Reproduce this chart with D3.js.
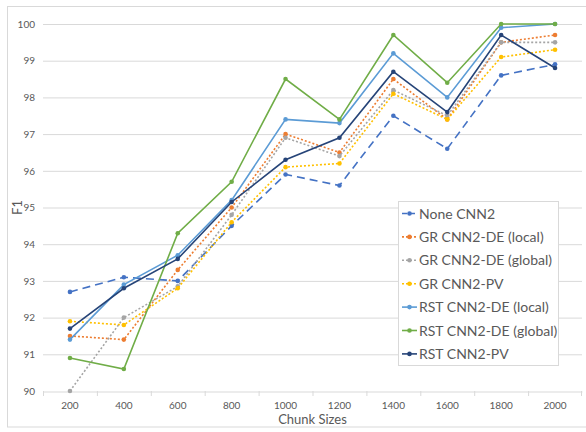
<!DOCTYPE html>
<html><head><meta charset="utf-8">
<script src="https://cdn.jsdelivr.net/npm/d3@7"></script>
<style>body{margin:0;background:#fff;} svg{display:block;}</style>
</head><body>
<svg id="c" width="586" height="432"></svg>
<script>
const categories = [200, 400, 600, 800, 1000, 1200, 1400, 1600, 1800, 2000];
const noneCNN2      = [92.7, 93.1, 93.0, 94.5, 95.9, 95.6, 97.5, 96.6, 98.6, 98.9];
const grDELocal     = [91.5, 91.4, 93.3, 95.0, 97.0, 96.5, 98.5, 97.4, 99.5, 99.7];
const grDEGlobal    = [90.0, 92.0, 92.85, 94.8, 96.9, 96.4, 98.2, 97.5, 99.5, 99.5];
const grPV          = [91.9, 91.8, 92.8, 94.6, 96.1, 96.2, 98.1, 97.4, 99.1, 99.3];
const rstDELocal    = [91.4, 92.9, 93.7, 95.2, 97.4, 97.3, 99.2, 98.0, 99.9, 100.0];
const rstDEGlobal   = [90.9, 90.6, 94.3, 95.7, 98.5, 97.4, 99.7, 98.4, 100.0, 100.0];
const rstPV         = [91.7, 92.8, 93.6, 95.15, 96.3, 96.9, 98.7, 97.6, 99.7, 98.8];
const seriesNames = ["None CNN2","GR CNN2-DE (local)","GR CNN2-DE (global)","GR CNN2-PV","RST CNN2-DE (local)","RST CNN2-DE (global)","RST CNN2-PV"];
const yTicks = [90,91,92,93,94,95,96,97,98,99,100];

const seriesValues = [noneCNN2, grDELocal, grDEGlobal, grPV, rstDELocal, rstDEGlobal, rstPV];
const colors = ["#4472C4","#ED7D31","#A5A5A5","#FFC000","#5B9BD5","#70AD47","#264478"];
const dashes = ["8,5","2,2","2,2","2,2",null,null,null];

const svg = d3.select("#c");
const font = "Lato, 'Open Sans', sans-serif";
svg.append("rect").attr("x",7.5).attr("y",6.5).attr("width",600).attr("height",420.5)
  .attr("fill","#fff").attr("stroke","#d9d9d9");

const L = 43, R = 582, T = 24, B = 391;
const x = d3.scaleBand().domain(categories).range([L, R]);
const y = d3.scaleLinear().domain([90,100]).range([B, T]);

// gridlines
svg.append("g").selectAll("line").data(yTicks.filter(d=>d>90)).join("line")
  .attr("x1",L).attr("x2",R).attr("y1",d=>y(d)+0.5).attr("y2",d=>y(d)+0.5)
  .attr("stroke","#d9d9d9").attr("stroke-width",1);

// x axis
const xa = svg.append("g").attr("transform",`translate(0,${B+0.5})`)
  .call(d3.axisBottom(x).tickSize(0).tickPadding(10));
xa.select(".domain").attr("stroke","#d9d9d9");
xa.selectAll("text").attr("fill","#595959").style("font-family",font).style("font-size","10px");
// category separator ticks
svg.append("g").selectAll("line").data(categories.concat([null])).join("line")
  .attr("x1",(d,i)=> i<categories.length ? x(d)+0.5 : R-0.5)
  .attr("x2",(d,i)=> i<categories.length ? x(d)+0.5 : R-0.5)
  .attr("y1",B).attr("y2",B+5).attr("stroke","#d9d9d9");

// y axis
const ya = svg.append("g").attr("transform",`translate(${L},0)`)
  .call(d3.axisLeft(y).tickValues(yTicks).tickSize(0).tickPadding(8));
ya.select(".domain").remove();
ya.selectAll("text").attr("fill","#595959").style("font-family",font).style("font-size","10px");

// titles
svg.append("text").attr("x",(L+R)/2).attr("y",424).attr("text-anchor","middle")
  .attr("fill","#595959").style("font-family",font).style("font-size","13px").text("Chunk Sizes");
svg.append("text").attr("transform",`translate(22,${(T+B)/2}) rotate(-90)`).attr("text-anchor","middle")
  .attr("fill","#595959").style("font-family",font).style("font-size","13px").text("F1");

// lines
const line = d3.line().x((d,i)=>x(categories[i])+x.bandwidth()/2).y(d=>y(d));
const g = svg.append("g");
seriesValues.forEach((vals,k)=>{
  g.append("path").datum(vals).attr("d",line).attr("fill","none")
    .attr("stroke",colors[k]).attr("stroke-width",1.6)
    .attr("stroke-dasharray",dashes[k]);
  g.append("g").selectAll("circle").data(vals).join("circle")
    .attr("cx",(d,i)=>x(categories[i])+x.bandwidth()/2).attr("cy",d=>y(d)).attr("r",2.3)
    .attr("fill",colors[k]);
});

// legend
const lg = svg.append("g");
lg.append("rect").attr("x",398.5).attr("y",201.5).attr("width",160).attr("height",164)
  .attr("fill","#fff").attr("stroke","#d9d9d9");
seriesNames.forEach((n,k)=>{
  const yy = 213.5 + k*23.4;
  lg.append("line").attr("x1",402).attr("x2",417).attr("y1",yy).attr("y2",yy)
    .attr("stroke",colors[k]).attr("stroke-width",1.6).attr("stroke-dasharray",dashes[k]?(k==0?"5,3":"2,2"):null);
  lg.append("circle").attr("cx",409.5).attr("cy",yy).attr("r",2.3).attr("fill",colors[k]);
  lg.append("text").attr("x",419).attr("y",yy).attr("dy","0.36em").attr("fill","#595959")
    .style("font-family",font).style("font-size","14px").text(n);
});
</script>
</body></html>
